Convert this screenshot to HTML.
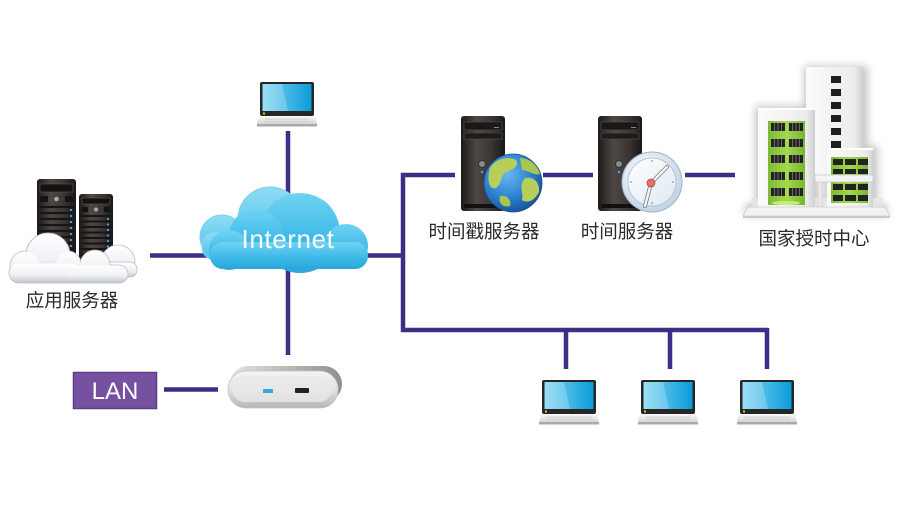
<!DOCTYPE html>
<html><head><meta charset="utf-8"><style>
html,body{margin:0;padding:0;background:#fff;}
svg{display:block;}
text{font-family:"Liberation Sans","Noto Sans CJK SC",sans-serif;}
</style></head><body>
<svg width="900" height="510" viewBox="0 0 900 510" xmlns="http://www.w3.org/2000/svg">
<defs>
  <linearGradient id="tower" x1="0" y1="0" x2="1" y2="0">
    <stop offset="0" stop-color="#1c1917"/>
    <stop offset="0.35" stop-color="#4e4845"/>
    <stop offset="0.7" stop-color="#3a3533"/>
    <stop offset="1" stop-color="#1a1716"/>
  </linearGradient>
  <linearGradient id="screen" x1="0" y1="0" x2="1" y2="0">
    <stop offset="0" stop-color="#7fd6f4"/>
    <stop offset="1" stop-color="#0b9bd8"/>
  </linearGradient>
  <linearGradient id="lbase" x1="0" y1="0" x2="0" y2="1">
    <stop offset="0" stop-color="#fafafa"/>
    <stop offset="1" stop-color="#d4d4d4"/>
  </linearGradient>
  <linearGradient id="cloudF" x1="0" y1="0" x2="0" y2="1">
    <stop offset="0" stop-color="#6fd3f3"/>
    <stop offset="0.6" stop-color="#3cb8e6"/>
    <stop offset="1" stop-color="#2aa6dc"/>
  </linearGradient>
  <linearGradient id="cloudB" x1="0" y1="0" x2="0" y2="1">
    <stop offset="0" stop-color="#8fdcf5"/>
    <stop offset="1" stop-color="#4dbfe9"/>
  </linearGradient>
  <linearGradient id="wcloud" x1="0" y1="0" x2="0" y2="1">
    <stop offset="0" stop-color="#ffffff"/>
    <stop offset="0.6" stop-color="#eef0f3"/>
    <stop offset="1" stop-color="#c4c8ce"/>
  </linearGradient>
  <radialGradient id="globe" cx="0.4" cy="0.35" r="0.7">
    <stop offset="0" stop-color="#6ab8ef"/>
    <stop offset="0.6" stop-color="#2a7fcf"/>
    <stop offset="1" stop-color="#174f9a"/>
  </radialGradient>
  <radialGradient id="clockring" cx="0.4" cy="0.35" r="0.75">
    <stop offset="0" stop-color="#ffffff"/>
    <stop offset="1" stop-color="#b9cde0"/>
  </radialGradient>
  <linearGradient id="clockface" x1="0" y1="0" x2="1" y2="1">
    <stop offset="0" stop-color="#ffffff"/>
    <stop offset="1" stop-color="#dde9f4"/>
  </linearGradient>
  <linearGradient id="green" x1="0" y1="0" x2="1" y2="0">
    <stop offset="0" stop-color="#7ab934"/>
    <stop offset="0.5" stop-color="#a5d84d"/>
    <stop offset="1" stop-color="#78b532"/>
  </linearGradient>
  <linearGradient id="bldg" x1="0" y1="0" x2="1" y2="0">
    <stop offset="0" stop-color="#fbfbfb"/>
    <stop offset="0.85" stop-color="#ececec"/>
    <stop offset="1" stop-color="#cfcfcf"/>
  </linearGradient>
  <linearGradient id="rback" x1="0" y1="0" x2="1" y2="0">
    <stop offset="0" stop-color="#e4e4e4"/>
    <stop offset="1" stop-color="#8f8f8f"/>
  </linearGradient>
  <linearGradient id="rfront" x1="0" y1="0" x2="0" y2="1">
    <stop offset="0" stop-color="#f4f4f4"/>
    <stop offset="0.5" stop-color="#e2e2e2"/>
    <stop offset="1" stop-color="#b6b6b6"/>
  </linearGradient>
  <filter id="blur" x="-20%" y="-20%" width="140%" height="140%"><feGaussianBlur stdDeviation="4"/></filter>

  <g id="laptop">
    <rect x="3" y="0" width="54" height="34" rx="2" fill="#262626"/>
    <rect x="5.5" y="2" width="49" height="27" fill="url(#screen)"/>
    <polygon points="5.5,2 25,2 31,29 5.5,29" fill="#ffffff" opacity="0.22"/>
    <rect x="6" y="30.5" width="2" height="2" fill="#e8c020"/>
    <polygon points="2,34 58,34 60,42 0,42" fill="url(#lbase)"/>
    <line x1="8" y1="37" x2="52" y2="37" stroke="#c8c8c8" stroke-width="0.8"/>
    <line x1="7" y1="39.3" x2="53" y2="39.3" stroke="#cfcfcf" stroke-width="0.8"/>
    <rect x="0" y="42" width="60" height="2.5" fill="#a9a9a9"/>
  </g>

  <g id="ttower">
    <rect x="0" y="0" width="44" height="95" rx="3" fill="url(#tower)"/>
    <rect x="3" y="6" width="38" height="8" fill="#1b1817" stroke="#5a5350" stroke-width="0.6"/>
    <rect x="33" y="11" width="5" height="1" fill="#888"/>
    <rect x="3" y="17" width="38" height="6" fill="#1e1b1a" stroke="#5a5350" stroke-width="0.6"/>
    <circle cx="21" cy="48" r="3.5" fill="#8a8a8a" stroke="#333" stroke-width="1"/>
    <circle cx="21" cy="56" r="1.3" fill="#3aa0e0"/>
    <rect x="3" y="88" width="38" height="4" fill="#111"/>
  </g>
</defs>

<!-- connectors -->
<g stroke="#3d2f86" stroke-width="4.5" fill="none">
  <line x1="288" y1="131" x2="288" y2="240"/>
  <line x1="150" y1="255.5" x2="220" y2="255.5"/>
  <line x1="355" y1="255.5" x2="405" y2="255.5"/>
  <line x1="288" y1="258" x2="288" y2="355"/>
  <line x1="164" y1="389.5" x2="218" y2="389.5"/>
  <polyline points="455,175 403,175 403,330 768,330"/>
  <line x1="566" y1="330" x2="566" y2="369"/>
  <line x1="670" y1="330" x2="670" y2="369"/>
  <line x1="767" y1="328" x2="767" y2="369"/>
  <line x1="543" y1="175" x2="593" y2="175"/>
  <line x1="685" y1="175" x2="735" y2="175"/>
</g>

<!-- top laptop -->
<use href="#laptop" x="257" y="82"/>

<!-- Internet cloud -->
<g>
  <g fill="url(#cloudB)" stroke="#7fd0ef" stroke-width="1">
    <circle cx="270" cy="219" r="32"/>
    <circle cx="222" cy="237" r="22"/>
    <circle cx="310" cy="222" r="25"/>
    <rect x="202" y="232" width="130" height="28" rx="13"/>
  </g>
  <g fill="url(#cloudF)">
    <circle cx="300" cy="233" r="40"/>
    <circle cx="256" cy="236" r="27"/>
    <circle cx="346" cy="246" r="22"/>
    <circle cx="229" cy="250" r="20"/>
    <rect x="210" y="242" width="158" height="27" rx="13"/>
  </g>
  <text x="288" y="248" text-anchor="middle" font-size="26" fill="#ffffff" letter-spacing="0.6">Internet</text>
</g>

<!-- application servers -->
<g>
  <rect x="37" y="179" width="39" height="88" rx="3" fill="url(#tower)"/>
  <rect x="40" y="184" width="33" height="8" fill="#141211" stroke="#5b5552" stroke-width="0.6"/>
  <rect x="40" y="196" width="8" height="6" fill="#151312"/>
  <rect x="65" y="196" width="8" height="6" fill="#151312"/>
  <circle cx="56.5" cy="199" r="2.3" fill="#aaa"/>
  <g stroke="#171514" stroke-width="2.2">
    <line x1="39" y1="207" x2="74" y2="207"/><line x1="39" y1="213" x2="74" y2="213"/>
    <line x1="39" y1="219" x2="74" y2="219"/><line x1="39" y1="225" x2="74" y2="225"/>
    <line x1="39" y1="231" x2="74" y2="231"/><line x1="39" y1="237" x2="74" y2="237"/>
    <line x1="39" y1="243" x2="74" y2="243"/><line x1="39" y1="249" x2="74" y2="249"/>
    <line x1="39" y1="255" x2="74" y2="255"/><line x1="39" y1="261" x2="74" y2="261"/>
  </g>
  <g fill="#3aa0e8">
    <rect x="70" y="209" width="2" height="2"/><rect x="70" y="215" width="2" height="2"/>
    <rect x="70" y="221" width="2" height="2"/><rect x="70" y="227" width="2" height="2"/>
    <rect x="70" y="233" width="2" height="2"/><rect x="70" y="239" width="2" height="2"/>
    <rect x="70" y="245" width="2" height="2"/><rect x="70" y="251" width="2" height="2"/>
  </g>
  <rect x="79" y="194" width="34" height="73" rx="3" fill="url(#tower)"/>
  <rect x="82" y="198" width="28" height="6" fill="#141211" stroke="#5b5552" stroke-width="0.6"/>
  <rect x="82" y="207" width="6" height="5" fill="#151312"/>
  <rect x="104" y="207" width="6" height="5" fill="#151312"/>
  <circle cx="96" cy="209.5" r="2" fill="#aaa"/>
  <g stroke="#171514" stroke-width="2">
    <line x1="81" y1="216" x2="111" y2="216"/><line x1="81" y1="221.5" x2="111" y2="221.5"/>
    <line x1="81" y1="227" x2="111" y2="227"/><line x1="81" y1="232.5" x2="111" y2="232.5"/>
    <line x1="81" y1="238" x2="111" y2="238"/><line x1="81" y1="243.5" x2="111" y2="243.5"/>
    <line x1="81" y1="249" x2="111" y2="249"/><line x1="81" y1="254.5" x2="111" y2="254.5"/>
    <line x1="81" y1="260" x2="111" y2="260"/>
  </g>
  <g fill="#3aa0e8">
    <rect x="107" y="218" width="2" height="2"/><rect x="107" y="223.5" width="2" height="2"/>
    <rect x="107" y="229" width="2" height="2"/><rect x="107" y="234.5" width="2" height="2"/>
    <rect x="107" y="240" width="2" height="2"/><rect x="107" y="245.5" width="2" height="2"/>
  </g>
  <!-- white clouds -->
  <g fill="url(#wcloud)" stroke="#b8bcc2" stroke-width="0.8">
    <circle cx="118" cy="262" r="17"/>
    <rect x="100" y="262" width="37" height="15" rx="7"/>
    <circle cx="48" cy="255" r="22"/>
    <circle cx="25" cy="266" r="15"/>
    <circle cx="68" cy="264" r="13"/>
    <rect x="9" y="263" width="72" height="20" rx="10"/>
    <circle cx="95" cy="265" r="15"/>
    <rect x="65" y="265" width="63" height="18" rx="9"/>
  </g>
  <g fill="url(#wcloud)">
    <circle cx="48" cy="256" r="21.5"/>
    <circle cx="25" cy="266.5" r="14.5"/>
    <circle cx="68" cy="264.5" r="12.5"/>
    <rect x="9.5" y="263.5" width="71" height="19" rx="9.5"/>
    <circle cx="95" cy="265.5" r="14.5"/>
    <rect x="65.5" y="265.5" width="62" height="17" rx="8.5"/>
  </g>
</g>
<text x="72" y="307" text-anchor="middle" font-size="18.5" fill="#2b2b2b">应用服务器</text>

<!-- timestamp server -->
<use href="#ttower" x="461" y="116"/>
<g>
  <circle cx="513" cy="183" r="29" fill="url(#globe)"/>
  <path d="M490,168 C496,158 508,156 516,160 C520,166 512,170 506,172 C500,176 502,184 496,188 C490,190 486,182 490,168 Z" fill="#b6cf5a"/>
  <path d="M520,158 C530,158 538,166 540,174 C534,176 528,170 522,170 Z" fill="#a9c750"/>
  <path d="M525,178 C533,176 540,182 539,192 C535,200 528,204 522,200 C524,192 518,186 525,178 Z" fill="#b6cf5a"/>
  <path d="M500,196 C506,194 512,200 510,206 C504,208 498,204 500,196 Z" fill="#a9c750"/>
  <circle cx="513" cy="183" r="29" fill="none" stroke="#1a4e8c" stroke-width="0.8"/>
</g>
<text x="484" y="238" text-anchor="middle" font-size="18.5" fill="#2b2b2b">时间戳服务器</text>

<!-- time server -->
<use href="#ttower" x="598" y="116"/>
<g>
  <circle cx="652" cy="182" r="30" fill="url(#clockring)" stroke="#9fb3c8" stroke-width="1"/>
  <circle cx="652" cy="182" r="24" fill="url(#clockface)" stroke="#b4c6d8" stroke-width="1"/>
  <g fill="#8a96a4">
    <circle cx="652" cy="161" r="0.9"/><circle cx="673" cy="182" r="0.9"/>
    <circle cx="652" cy="203" r="0.9"/><circle cx="631" cy="182" r="0.9"/>
  </g>
  <line x1="651" y1="183" x2="667" y2="167" stroke="#7d7d7d" stroke-width="4" stroke-linecap="round"/>
  <line x1="651" y1="183" x2="667" y2="167" stroke="#f4f4f4" stroke-width="2.4" stroke-linecap="round"/>
  <line x1="651" y1="183" x2="645" y2="206" stroke="#7d7d7d" stroke-width="4" stroke-linecap="round"/>
  <line x1="651" y1="183" x2="645" y2="206" stroke="#f4f4f4" stroke-width="2.4" stroke-linecap="round"/>
  <circle cx="651" cy="183" r="4" fill="#e3706a" stroke="#b04840" stroke-width="0.8"/>
</g>
<text x="627" y="238" text-anchor="middle" font-size="18.5" fill="#2b2b2b">时间服务器</text>

<!-- building -->
<g>
  <g filter="url(#blur)" fill="#9a9a9a" opacity="0.55">
    <rect x="804" y="66" width="64" height="110"/>
    <rect x="755" y="106" width="64" height="105"/>
    <rect x="824" y="146" width="54" height="64"/>
    <rect x="745" y="204" width="142" height="12"/>
  </g>
  <rect x="806" y="67" width="57" height="110" fill="url(#bldg)"/>
  <g fill="#1e1e1e">
    <rect x="831" y="76" width="10" height="7"/><rect x="831" y="89" width="10" height="7"/>
    <rect x="831" y="102" width="10" height="7"/><rect x="831" y="115" width="10" height="7"/>
    <rect x="831" y="128" width="10" height="7"/><rect x="831" y="141" width="10" height="7"/>
  </g>
  <rect x="752" y="198" width="130" height="10" fill="#e6e6e6"/>
  <rect x="758" y="108" width="57" height="99" fill="url(#bldg)"/>
  <rect x="758" y="108" width="57" height="2" fill="#ffffff"/>
  <rect x="768" y="121" width="37" height="84" fill="url(#green)"/>
  <g fill="#222">
    <rect x="771" y="123" width="14" height="8"/><rect x="789" y="123" width="14" height="8"/>
    <rect x="771" y="139" width="14" height="8"/><rect x="789" y="139" width="14" height="8"/>
    <rect x="771" y="155" width="14" height="8"/><rect x="789" y="155" width="14" height="8"/>
    <rect x="771" y="172" width="14" height="8"/><rect x="789" y="172" width="14" height="8"/>
    <rect x="771" y="188" width="14" height="8"/><rect x="789" y="188" width="14" height="8"/>
  </g>
  <g stroke="#9a9a9a" stroke-width="0.6">
    <line x1="774.5" y1="123" x2="774.5" y2="196"/><line x1="778" y1="123" x2="778" y2="196"/><line x1="781.5" y1="123" x2="781.5" y2="196"/>
    <line x1="792.5" y1="123" x2="792.5" y2="196"/><line x1="796" y1="123" x2="796" y2="196"/><line x1="799.5" y1="123" x2="799.5" y2="196"/>
  </g>
  <g fill="url(#green)"><rect x="768" y="131" width="37" height="8"/><rect x="768" y="147" width="37" height="8"/><rect x="768" y="163" width="37" height="9"/><rect x="768" y="180" width="37" height="8"/></g>
  <ellipse cx="786" cy="203" rx="14" ry="2" fill="#c8ec7a"/>
  <rect x="827" y="148" width="46" height="59" fill="url(#bldg)"/>
  <rect x="827" y="148" width="46" height="2" fill="#fff"/>
  <rect x="831" y="157" width="37" height="46" fill="url(#green)"/>
  <g fill="#222">
    <rect x="833" y="159" width="10" height="6"/><rect x="845" y="159" width="11" height="6"/><rect x="858" y="159" width="10" height="6"/>
    <rect x="833" y="169" width="10" height="5"/><rect x="845" y="169" width="11" height="5"/><rect x="858" y="169" width="10" height="5"/>
    <rect x="833" y="184" width="10" height="6"/><rect x="845" y="184" width="11" height="6"/><rect x="858" y="184" width="10" height="6"/>
    <rect x="833" y="195" width="10" height="6"/><rect x="845" y="195" width="11" height="6"/><rect x="858" y="195" width="10" height="6"/>
  </g>
  <rect x="815" y="175" width="58" height="7" fill="#f4f4f4" stroke="#cacaca" stroke-width="0.8"/>
  <rect x="818" y="182" width="4" height="25" fill="#e9e9e9" stroke="#cfcfcf" stroke-width="0.6"/>
  <polygon points="748,207 885,207 890,216 743,216" fill="#f2f2f2" stroke="#d0d0d0" stroke-width="0.8"/>
  <rect x="743" y="216" width="147" height="2" fill="#c9c9c9"/>
</g>
<text x="814" y="245" text-anchor="middle" font-size="18.5" fill="#2b2b2b">国家授时中心</text>

<!-- router -->
<g>
  <rect x="230" y="366" width="112" height="36" rx="18" fill="url(#rback)"/>
  <rect x="228" y="371" width="110" height="37" rx="18" fill="url(#rfront)" stroke="#c2c2c2" stroke-width="0.8"/>
  <rect x="232" y="376" width="100" height="26" rx="13" fill="#e9e9e9" opacity="0.8"/>
  <rect x="263" y="389" width="10" height="4" fill="#34a7e0"/>
  <rect x="295" y="388" width="14" height="5" rx="1" fill="#2a1e18"/>
</g>

<!-- LAN -->
<rect x="73.5" y="372.5" width="83" height="36" fill="#7551a0" stroke="#5a3e88" stroke-width="1.5"/>
<text x="115" y="399" text-anchor="middle" font-size="24" fill="#ffffff">LAN</text>

<!-- bottom laptops -->
<use href="#laptop" x="539" y="380"/>
<use href="#laptop" x="638" y="380"/>
<use href="#laptop" x="737" y="380"/>
</svg>
</body></html>
